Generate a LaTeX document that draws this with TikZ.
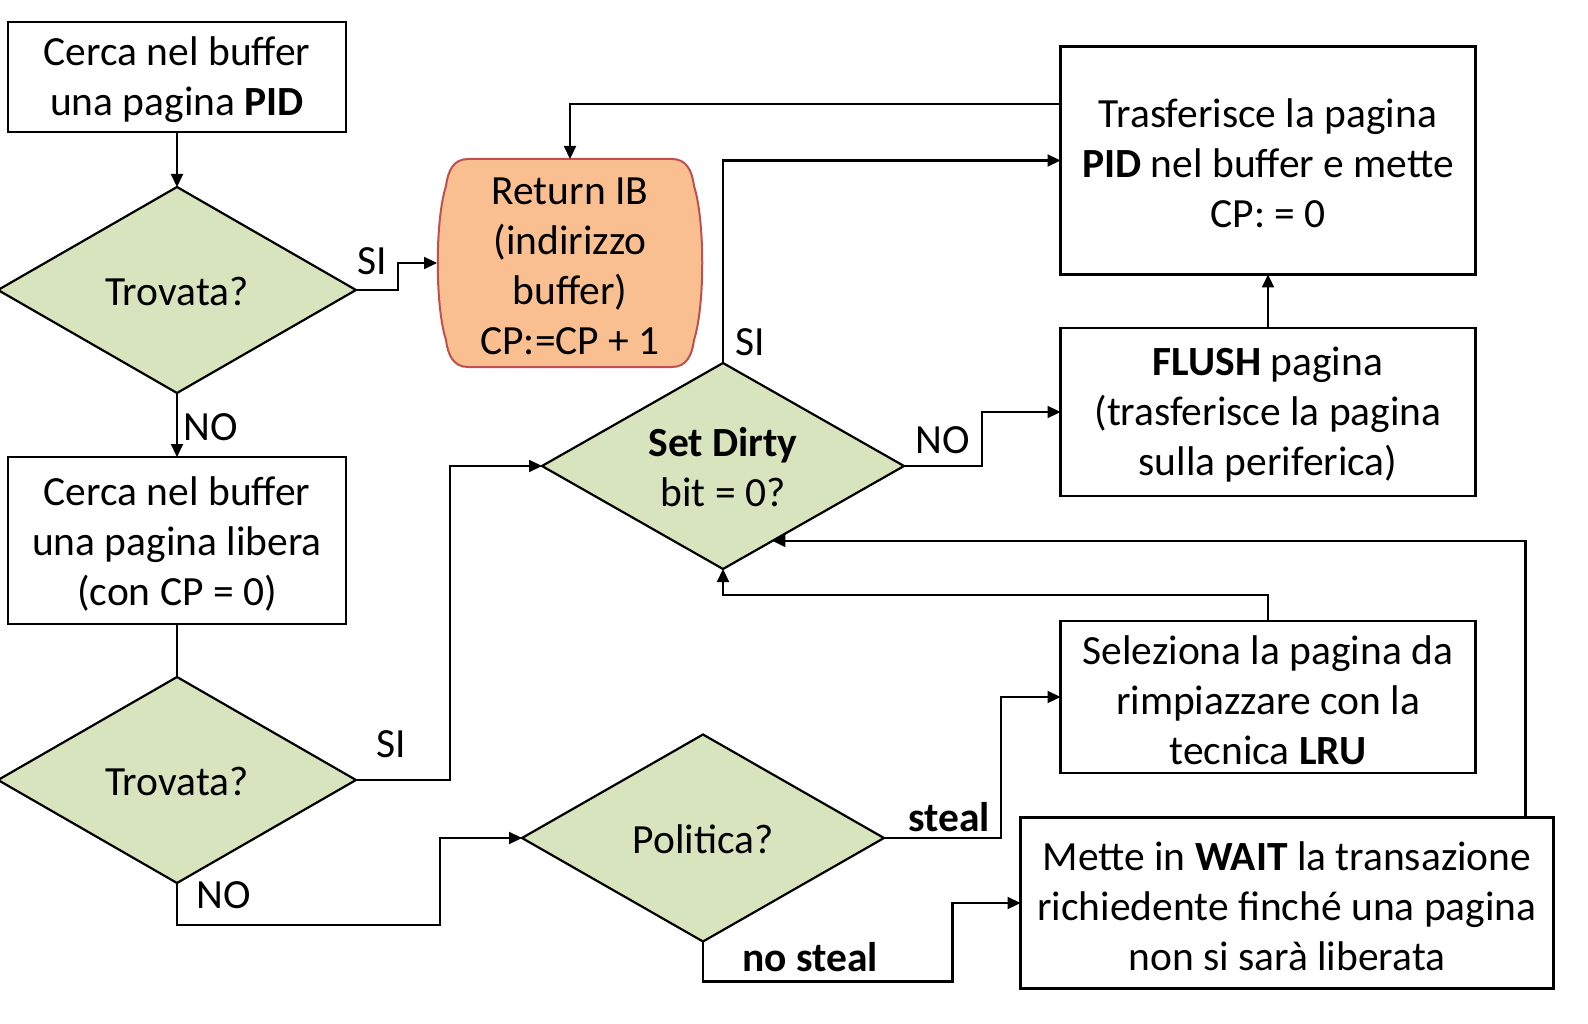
\documentclass[tikz,border=0pt]{standalone}
\usepackage{fontspec}
\setmainfont{Carlito}
\usetikzlibrary{shapes.geometric,arrows.meta,calc}
\definecolor{dgreen}{HTML}{D7E4BD}
\definecolor{rfill}{HTML}{F9BF90}
\definecolor{rline}{HTML}{C0504D}
\begin{document}
\begin{tikzpicture}[x=1pt,y=-1pt,
  every node/.style={font=\fontsize{41.5}{50}\selectfont, inner sep=0pt, outer sep=0pt},
  box/.style={draw, line width=2.2pt},
  btext/.style={align=center, yshift=-3pt},
  dia/.style={draw, diamond, fill=dgreen, line width=2.2pt},
  dtext/.style={align=center, yshift=-1pt},
  conn/.style={line width=2.2pt, -{Triangle[length=13pt,width=12pt]}},
  plainline/.style={line width=2.2pt}]
\useasboundingbox (0,0) rectangle (1588,1024);

% Return IB shape
\draw[rline, fill=rfill, line width=2pt]
  (468,159) -- (672,159) .. controls (686,159) and (692,170) .. (694,186)
  .. controls (705,220) and (705,306) .. (694,340)
  .. controls (692,356) and (686,367) .. (672,367) -- (468,367)
  .. controls (454,367) and (448,356) .. (446,340)
  .. controls (435,306) and (435,220) .. (446,186)
  .. controls (448,170) and (454,159) .. (468,159) -- cycle;
\node[minimum width=266, minimum height=208] (R) at (570,263) {};
\node[btext] (Rt) at (R) {Return IB\\(indirizzo\\buffer)\\CP:=CP + 1};

\node[box, minimum width=338, minimum height=110] (A) at (177,77) {};
\node[btext] (At) at (A) {Cerca nel buffer\\una pagina \textbf{PID}};
\node[dia, minimum width=358, minimum height=206] (D1) at (177,290) {};
\node[dtext] (D1t) at (D1) {Trovata?};
\node[box, minimum width=338, minimum height=167] (B) at (177,540.5) {};
\node[btext] (Bt) at (B) {Cerca nel buffer\\una pagina libera\\(con CP = 0)};
\node[dia, minimum width=358, minimum height=206] (D2) at (177,780) {};
\node[dtext] (D2t) at (D2) {Trovata?};

\node[box, minimum width=415, minimum height=228] (T) at (1268,160.5) {};
\node[btext] (Tt) at (T) {Trasferisce la pagina\\\textbf{PID} nel buffer e mette\\CP: = 0};
\node[box, minimum width=415, minimum height=168] (F) at (1268,412) {};
\node[btext] (Ft) at (F) {\textbf{FLUSH} pagina\\(trasferisce la pagina\\sulla periferica)};
\node[box, minimum width=415, minimum height=152] (S) at (1268,697) {};
\node[btext] (St) at (S) {Seleziona la pagina da\\rimpiazzare con la\\tecnica \textbf{LRU}};
\node[box, minimum width=533, minimum height=171] (W) at (1287,903) {};
\node[btext] (Wt) at (W) {Mette in \textbf{WAIT} la transazione\\richiedente finché una pagina\\non si sarà liberata};

\node[dia, minimum width=362, minimum height=206] (D3) at (723,466) {};
\node[dtext] (D3t) at (D3) {\textbf{Set Dirty}\\bit = 0?};
\node[dia, minimum width=362, minimum height=207] (D4) at (703,838) {};
\node[dtext] (D4t) at (D4) {Politica?};

% connectors
\draw[conn] (A.south) -- (D1.north);
\draw[conn] (D1.east) -- ++(42,0) |- (R.west);
\draw[conn] ($(T.north west)+(0,57.5)$) -| (R.north);
\draw[conn] (D3.north) |- (T.west);
\draw[conn] (D3.east) -- ++(78,0) |- (F.west);
\draw[conn] (F.north) -- (T.south);
\draw[conn] (D1.south) -- (B.north);
\draw[plainline] (B.south) -- (D2.north);
\draw[conn] (D2.east) -- ++(94,0) |- (D3.west);
\draw[conn] (D2.south) -- ++(0,42) -| ($(D4.west)+(-82,0)$) -- (D4.west);
\draw[conn] (D4.east) -- ++(117,0) |- (S.west);
\draw[conn] (D4.south) -- ++(0,40) -| ($(W.west)+(-68,0)$) -- (W.west);
\draw[conn] (S.north) -- ++(0,-26) -| (D3.south);
\coordinate (d3in) at ($(D3.east)!0.727!(D3.south)$);
\draw[conn] ($(W.north east)+(-28,0)$) |- (d3in);

% labels
\node (l1) at (372,261) {SI};
\node (l2) at (211,427) {NO};
\node (l3) at (391,744) {SI};
\node (l4) at (224,895) {NO};
\node (l5) at (750,342) {SI};
\node (l6) at (943,440) {NO};
\node (l7) at (949,817) {\textbf{steal}};
\node (l8) at (810,957) {\textbf{no steal}};
\end{tikzpicture}
\end{document}
